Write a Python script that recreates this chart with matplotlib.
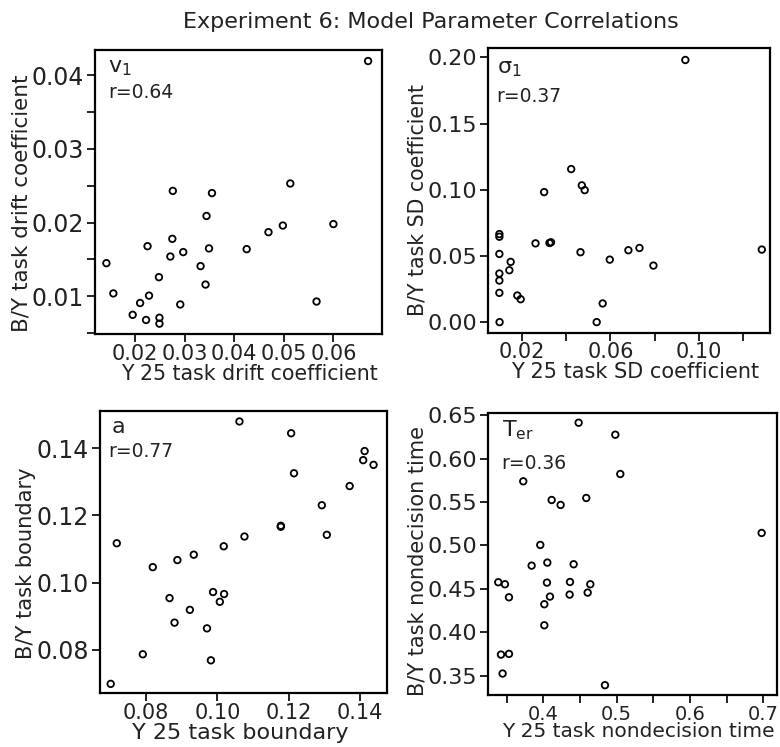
import matplotlib
matplotlib.use("Agg")
import matplotlib.pyplot as plt
from matplotlib.ticker import FixedLocator, FixedFormatter

plt.rcParams['font.family'] = ['DejaVu Sans']

# ---------------- data ----------------
# Panel v1: drift coefficient
v1_x = [0.0670, 0.0142, 0.0156, 0.0195, 0.0210, 0.0222, 0.0228, 0.0225, 0.0248, 0.0249,
        0.0249, 0.0271, 0.0276, 0.0275, 0.0297, 0.0291, 0.0332, 0.0342, 0.0344, 0.0349,
        0.0355, 0.0425, 0.0469, 0.0498, 0.0513, 0.0600, 0.0566]
v1_y = [0.0419, 0.0145, 0.0104, 0.0075, 0.0091, 0.0068, 0.0101, 0.0168, 0.0126, 0.0071,
        0.0063, 0.0154, 0.0243, 0.0178, 0.0160, 0.0089, 0.0141, 0.0116, 0.0209, 0.0165,
        0.0240, 0.0164, 0.0187, 0.0196, 0.0253, 0.0198, 0.0093]

# Panel sigma1: SD coefficient
s1_x = [0.0938, 0.0099, 0.0099, 0.0099, 0.0099, 0.0099, 0.0099, 0.0100, 0.0144, 0.0150,
        0.0180, 0.0195, 0.0262, 0.0301, 0.0325, 0.0332, 0.0423, 0.0471, 0.0484, 0.0465,
        0.0538, 0.0565, 0.0597, 0.0681, 0.0731, 0.0794, 0.1283]
s1_y = [0.198, 0.0665, 0.0645, 0.0515, 0.0367, 0.0314, 0.0221, 0.0000, 0.0392, 0.0455,
        0.0201, 0.0173, 0.0595, 0.0982, 0.0598, 0.0603, 0.1156, 0.1033, 0.0997, 0.0528,
        0.0000, 0.0141, 0.0472, 0.0543, 0.0560, 0.0427, 0.0548]

# Panel a: boundary
a_x = [0.0701, 0.0718, 0.0791, 0.0819, 0.0866, 0.0880, 0.0888, 0.0923, 0.0934, 0.0971,
       0.0982, 0.0988, 0.1007, 0.1019, 0.1018, 0.1062, 0.1076, 0.1178, 0.1178, 0.1207,
       0.1215, 0.1293, 0.1307, 0.1371, 0.1413, 0.1409, 0.1438]
a_y = [0.0699, 0.1117, 0.0787, 0.1046, 0.0954, 0.0881, 0.1067, 0.0919, 0.1083, 0.0864,
       0.0769, 0.0972, 0.0943, 0.0966, 0.1108, 0.1479, 0.1137, 0.1169, 0.1166, 0.1444,
       0.1325, 0.1230, 0.1142, 0.1287, 0.1391, 0.1364, 0.1350]

# Panel Ter: nondecision time
t_x = [0.3386, 0.3477, 0.3532, 0.3423, 0.3532, 0.3445, 0.3727, 0.3841, 0.3959, 0.4014,
       0.4014, 0.4055, 0.4050, 0.4091, 0.4114, 0.4236, 0.4364, 0.4359, 0.4414, 0.4482,
       0.4586, 0.4605, 0.4641, 0.4841, 0.4982, 0.5050, 0.6977]
t_y = [0.4577, 0.4554, 0.4404, 0.3745, 0.3753, 0.3527, 0.5738, 0.4768, 0.5006, 0.4324,
       0.4082, 0.4803, 0.4573, 0.4412, 0.5523, 0.5466, 0.4580, 0.4435, 0.4784, 0.6412,
       0.5546, 0.4458, 0.4554, 0.3393, 0.6274, 0.5822, 0.5144]

titles = ["v$_1$", "\u03c3$_1$", "a", "T$_{\\mathrm{er}}$"]
r_texts = ["r=0.64", "r=0.37", "r=0.77", "r=0.36"]
xlabels = ["Y 25 task drift coefficient", "Y 25 task SD coefficient",
           "Y 25 task boundary", "Y 25 task nondecision time"]
ylabels = ["B/Y task drift coefficient", "B/Y task SD coefficient",
           "B/Y task boundary", "B/Y task nondecision time"]

# tick positions / labels
v1_xticks = [0.02, 0.03, 0.04, 0.05, 0.06]
v1_xticklabels = ["0.02", "0.03", "0.04", "0.05", "0.06"]
v1_yticks = [0.005, 0.01, 0.015, 0.02, 0.025, 0.03, 0.035, 0.04]
v1_yticklabels = ["", "0.01", "", "0.02", "", "0.03", "", "0.04"]

s1_xticks = [0.02, 0.04, 0.06, 0.08, 0.10, 0.12]
s1_xticklabels = ["0.02", "", "0.06", "", "0.10", ""]
s1_yticks = [0.0, 0.05, 0.10, 0.15, 0.20]
s1_yticklabels = ["0.00", "0.05", "0.10", "0.15", "0.20"]

a_xticks = [0.08, 0.10, 0.12, 0.14]
a_xticklabels = ["0.08", "0.10", "0.12", "0.14"]
a_yticks = [0.08, 0.10, 0.12, 0.14]
a_yticklabels = ["0.08", "0.10", "0.12", "0.14"]

t_xticks = [0.35, 0.40, 0.45, 0.50, 0.55, 0.60, 0.65, 0.70]
t_xticklabels = ["", "0.4", "", "0.5", "", "0.6", "", "0.7"]
t_yticks = [0.35, 0.40, 0.45, 0.50, 0.55, 0.60, 0.65]
t_yticklabels = ["0.35", "0.40", "0.45", "0.50", "0.55", "0.60", "0.65"]

panels = [
    dict(x=v1_x, y=v1_y, xt=v1_xticks, xtl=v1_xticklabels, yt=v1_yticks, ytl=v1_yticklabels,
         xlim=(0.0119, 0.0698), ylim=(0.0049, 0.0434), pos=[0.1218, 0.5529, 0.3679, 0.3802],
         ytsize=17, xtsize=15, xlsize=14.8, ylsize=15.5, xlpad=0, xlx=0.538, yly=0.46,
         tpos=(0.045, 0.9225), rpos=(0.045, 0.884)),
    dict(x=s1_x, y=s1_y, xt=s1_xticks, xtl=s1_xticklabels, yt=s1_yticks, ytl=s1_yticklabels,
         xlim=(0.0049, 0.132), ylim=(-0.008, 0.2068), pos=[0.626, 0.5546, 0.3612, 0.3807],
         ytsize=16, xtsize=15, xlsize=15, ylsize=14.8, xlpad=0, xlx=0.52, yly=0.467,
         tpos=(0.031, 0.913), rpos=(0.027, 0.865)),
    dict(x=a_x, y=a_y, xt=a_xticks, xtl=a_xticklabels, yt=a_yticks, ytl=a_yticklabels,
         xlim=(0.0671, 0.1475), ylim=(0.0671, 0.1511), pos=[0.1282, 0.0719, 0.3676, 0.3783],
         ytsize=17, xtsize=15, xlsize=16, ylsize=15.1, xlpad=0, xlx=0.49, yly=0.461,
         tpos=(0.042, 0.92), rpos=(0.029, 0.89)),
    dict(x=t_x, y=t_y, xt=t_xticks, xtl=t_xticklabels, yt=t_yticks, ytl=t_yticklabels,
         xlim=(0.325, 0.7187), ylim=(0.328, 0.652), pos=[0.626, 0.0696, 0.3702, 0.3771],
         ytsize=16, xtsize=14, xlsize=14.5, ylsize=15, xlpad=-1, xlx=0.52, yly=0.475,
         tpos=(0.046, 0.917), rpos=(0.046, 0.856)),
]

fig = plt.figure(figsize=(7.8, 7.47), dpi=100)
fig.text(0.553, 0.9625, "Experiment 6: Model Parameter Correlations", ha="center",
         va="baseline", fontsize=16, color="#222222")

for i, p in enumerate(panels):
    ax = fig.add_axes(p["pos"])
    ax.scatter(p["x"], p["y"], s=22, facecolors="none", edgecolors="black", linewidths=1.3,
               zorder=3)
    ax.set_xlim(*p["xlim"])
    ax.set_ylim(*p["ylim"])
    ax.xaxis.set_major_locator(FixedLocator(p["xt"]))
    ax.xaxis.set_major_formatter(FixedFormatter(p["xtl"]))
    ax.yaxis.set_major_locator(FixedLocator(p["yt"]))
    ax.yaxis.set_major_formatter(FixedFormatter(p["ytl"]))
    for s in ax.spines.values():
        s.set_linewidth(1.6)
    ax.tick_params(axis="both", direction="out", length=6, width=1.4, color="#222222")
    ax.tick_params(axis="y", labelsize=p["ytsize"], pad=2, labelcolor="#222222")
    ax.tick_params(axis="x", labelsize=p["xtsize"], pad=1, labelcolor="#222222")
    ax.set_xlabel(xlabels[i], fontsize=p["xlsize"], labelpad=p["xlpad"], color="#222222")
    ax.set_ylabel(ylabels[i], fontsize=p["ylsize"], labelpad=0, color="#222222")
    ax.xaxis.label.set_x(p["xlx"])
    ax.yaxis.label.set_y(p["yly"])
    ax.text(p["tpos"][0], p["tpos"][1], titles[i], transform=ax.transAxes, ha="left",
            va="baseline", fontsize=16, color="#222222")
    ax.text(p["rpos"][0], p["rpos"][1], r_texts[i], transform=ax.transAxes, ha="left",
            va="top", fontsize=13.5, color="#222222")

fig.savefig("out.png", dpi=100)
